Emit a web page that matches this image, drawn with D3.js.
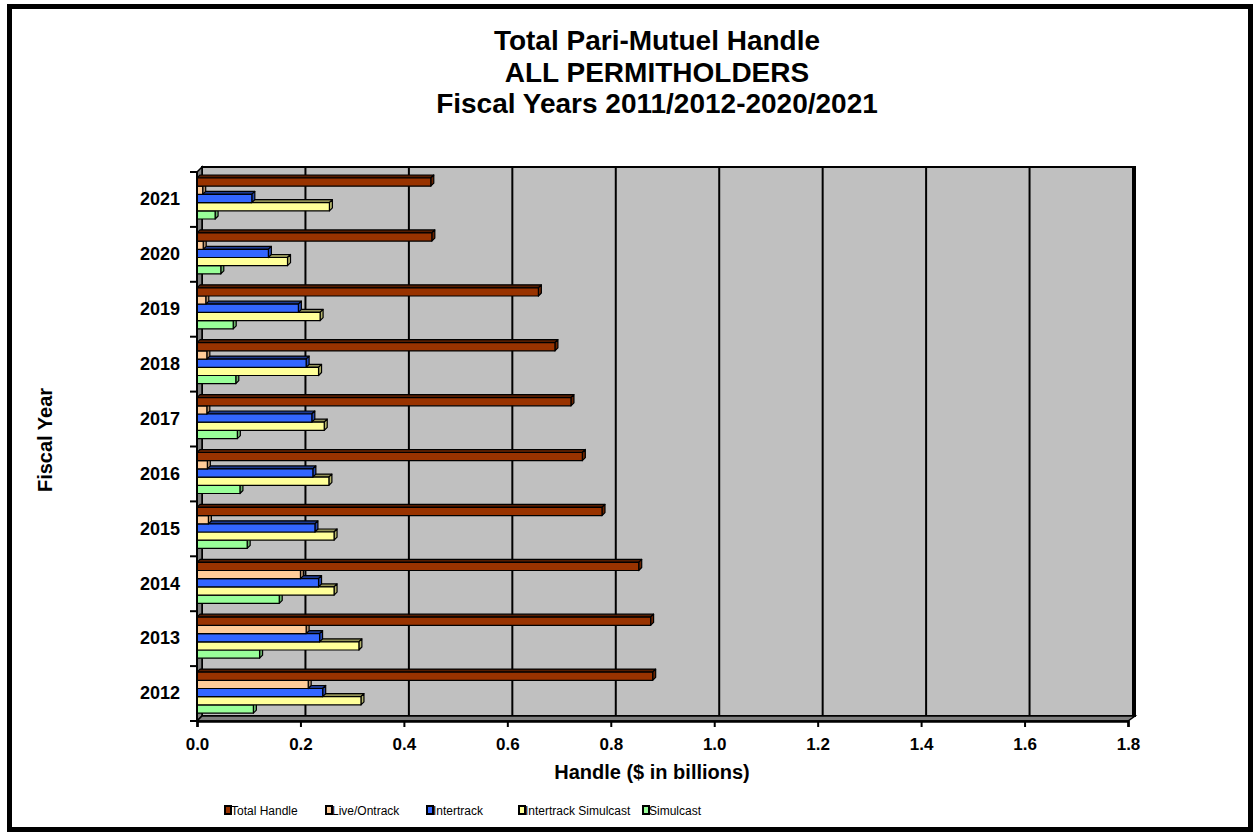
<!DOCTYPE html>
<html>
<head>
<meta charset="utf-8">
<script src="https://cdn.jsdelivr.net/npm/d3@7"></script>
<style>
  body { margin: 0; background: #fff; }
  text { font-family: Arial, "Liberation Sans", sans-serif; }
</style>
</head>
<body>
<svg id="chart" width="1259" height="835"></svg>
<script>
// Data (billions of dollars)
const years = ["2012", "2013", "2014", "2015", "2016", "2017", "2018", "2019", "2020", "2021"];
const seriesNames = ["Total Handle", "Live/Ontrack", "Intertrack", "Intertrack Simulcast", "Simulcast"];
const totalHandle = [0.881, 0.877, 0.854, 0.783, 0.745, 0.723, 0.692, 0.660, 0.454, 0.452];
const liveOntrack = [0.215, 0.211, 0.200, 0.022, 0.020, 0.019, 0.019, 0.017, 0.012, 0.011];
const intertrack = [0.243, 0.237, 0.235, 0.228, 0.224, 0.222, 0.211, 0.196, 0.138, 0.106];
const intertrackSimulcast = [0.317, 0.313, 0.265, 0.265, 0.255, 0.246, 0.235, 0.238, 0.175, 0.256];
const simulcast = [0.109, 0.121, 0.159, 0.097, 0.083, 0.078, 0.075, 0.070, 0.046, 0.035];
const xTicks = [0, 0.2, 0.4, 0.6, 0.8, 1.0, 1.2, 1.4, 1.6, 1.8];

const seriesValues = [totalHandle, liveOntrack, intertrack, intertrackSimulcast, simulcast];
const colors = ["#993300", "#FFCC99", "#3366FF", "#FFFF99", "#99FF99"];

let svg = d3.select("svg#chart");

// layout
let plot = { left: 197, right: 1128, top: 172, bottom: 721 };
let wallDepth = 5;
let barDepth = 3;

const xScale = d3.scaleLinear().domain([0, 1.8]).range([plot.left, plot.right]);
const yScale = d3.scaleBand().domain(years.slice().reverse()).range([plot.top, plot.bottom]);
const subScale = d3.scaleBand().domain(seriesNames).range([6, 47]);

// outer border
svg.append("rect")
  .attr("x", 9.5).attr("y", 6.5)
  .attr("width", 1241).attr("height", 823)
  .attr("fill", "white").attr("stroke", "black").attr("stroke-width", 5);

// titles
let titleLines = ["Total Pari-Mutuel Handle", "ALL PERMITHOLDERS", "Fiscal Years 2011/2012-2020/2021"];
titleLines.forEach((t, i) => {
  svg.append("text")
    .attr("x", 657).attr("y", 50 + i * 31.5)
    .attr("text-anchor", "middle")
    .attr("font-size", "28px").attr("font-weight", "bold")
    .text(t);
});

// back wall
let bx0 = plot.left + wallDepth, by0 = plot.top - wallDepth;
let bx1 = plot.right + wallDepth + 2, by1 = plot.bottom - wallDepth;
svg.append("rect")
  .attr("x", bx0).attr("y", by0)
  .attr("width", bx1 - bx0).attr("height", by1 - by0)
  .attr("fill", "#C0C0C0").attr("stroke", "black").attr("stroke-width", 2);

// gridlines on the wall
svg.append("g")
  .selectAll("line")
  .data(xTicks.slice(1))
  .join("line")
  .attr("x1", d => xScale(d) + wallDepth).attr("x2", d => xScale(d) + wallDepth)
  .attr("y1", by0).attr("y2", by1)
  .attr("stroke", "black").attr("stroke-width", 2);

// side wall and floor
svg.append("polygon")
  .attr("points", [[plot.left, plot.top], [bx0, by0], [bx0, by1], [plot.left, plot.bottom]].join(" "))
  .attr("fill", "#808080").attr("stroke", "black").attr("stroke-width", 1.5);
svg.append("polygon")
  .attr("points", [[plot.left, plot.bottom], [bx0, by1], [bx1, by1], [plot.right, plot.bottom]].join(" "))
  .attr("fill", "#808080").attr("stroke", "black").attr("stroke-width", 1.5);

// bars: draw bottom series first so the upper bar covers its top face
let barsG = svg.append("g");
years.forEach((yr, yi) => {
  for (let s = seriesNames.length - 1; s >= 0; s--) {
    let v = seriesValues[s][yi];
    let x0 = xScale(0), x1 = xScale(v);
    let y0 = yScale(yr) + subScale(seriesNames[s]);
    let h = subScale.bandwidth();
    let c = d3.color(colors[s]);
    let g = barsG.append("g").attr("stroke", "black").attr("stroke-width", 1.2).attr("stroke-linejoin", "round");
    g.append("polygon")
      .attr("points", [[x0, y0], [x0 + barDepth, y0 - barDepth], [x1 + barDepth, y0 - barDepth], [x1, y0]].join(" "))
      .attr("fill", c.darker(1.6));
    g.append("polygon")
      .attr("points", [[x1, y0], [x1 + barDepth, y0 - barDepth], [x1 + barDepth, y0 + h - barDepth], [x1, y0 + h]].join(" "))
      .attr("fill", c.darker(1.0));
    g.append("rect")
      .attr("x", x0).attr("y", y0)
      .attr("width", x1 - x0).attr("height", h)
      .attr("fill", colors[s]);
  }
});

// front left axis line with ticks at category edges
svg.append("line")
  .attr("x1", plot.left).attr("x2", plot.left)
  .attr("y1", plot.top).attr("y2", plot.bottom)
  .attr("stroke", "black").attr("stroke-width", 2);
let edges = years.map(yr => yScale(yr)).concat([plot.bottom]);
svg.append("g")
  .selectAll("line")
  .data(edges)
  .join("line")
  .attr("x1", plot.left - 7).attr("x2", plot.left)
  .attr("y1", d => d).attr("y2", d => d)
  .attr("stroke", "black").attr("stroke-width", 2);

// year labels
let leftAxis = d3.axisLeft(yScale).tickSize(0).tickPadding(17);
let yAxisG = svg.append("g")
  .attr("transform", "translate(" + plot.left + ",0)")
  .call(leftAxis);
yAxisG.select(".domain").remove();
yAxisG.selectAll("text")
  .attr("font-size", "18px").attr("font-weight", "bold")
  .attr("font-family", "Arial, 'Liberation Sans', sans-serif");

// bottom axis
let bottomAxis = d3.axisBottom(xScale).tickValues(xTicks).tickFormat(d3.format(".1f")).tickSize(6).tickPadding(11);
let xAxisG = svg.append("g")
  .attr("transform", "translate(0," + plot.bottom + ")")
  .call(bottomAxis);
xAxisG.select(".domain").attr("stroke-width", 2.5);
xAxisG.selectAll(".tick line").attr("stroke-width", 2);
xAxisG.selectAll("text")
  .attr("font-size", "17px").attr("font-weight", "bold")
  .attr("font-family", "Arial, 'Liberation Sans', sans-serif");

// axis titles
svg.append("text")
  .attr("x", 652).attr("y", 779)
  .attr("text-anchor", "middle")
  .attr("font-size", "20px").attr("font-weight", "bold")
  .text("Handle ($ in billions)");

let xCent = 52, yCent = 440;
svg.append("text")
  .attr("x", xCent).attr("y", yCent)
  .attr("text-anchor", "middle")
  .attr("font-size", "20px").attr("font-weight", "bold")
  .attr("transform", "rotate(-90," + xCent + "," + yCent + ")")
  .text("Fiscal Year");

// legend
let legendX = [228, 329, 430, 522, 646];
seriesNames.forEach((name, i) => {
  svg.append("rect")
    .attr("x", legendX[i] - 3).attr("y", 806)
    .attr("width", 6).attr("height", 8)
    .attr("fill", colors[i]).attr("stroke", "black").attr("stroke-width", 2);
  svg.append("text")
    .attr("x", legendX[i] + 3).attr("y", 815)
    .attr("font-size", "12px")
    .text(name);
});
</script>
</body>
</html>
